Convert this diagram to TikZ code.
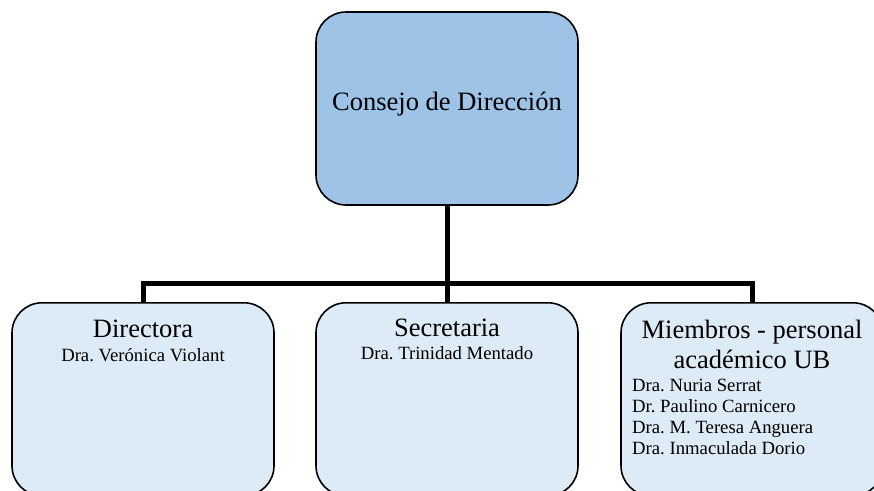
\documentclass[tikz,border=0pt]{standalone}
\usepackage{fontspec}
\setmainfont{Liberation Serif}
\usetikzlibrary{positioning,calc}
\definecolor{topblue}{RGB}{157,195,230}
\definecolor{lowblue}{RGB}{221,235,247}
\frenchspacing

\begin{document}
\begin{tikzpicture}[x=1pt,y=-1pt, % units are pixels of the chart, y points down
  box/.style={draw=black, line width=1.6pt, rounded corners=30pt,
    minimum width=262pt, minimum height=193pt, inner sep=0pt},
  head/.style={font=\fontsize{26.5}{30}\selectfont, align=center, inner sep=0pt},
  names/.style={font=\fontsize{18.7}{20.7}\selectfont, inner sep=0pt},
  conn/.style={line width=5pt}]

\useasboundingbox (0,0) rectangle (874,490);

% Top box
\node[box, fill=topblue] (consejo) at (447,108.5) {};

% Lower row of boxes (cut by the lower edge)
\foreach \n/\x in {dir/143, sec/447, mem/752} {
  \node[box, fill=lowblue, anchor=north] (\n) at (\x,302) {};
}

% Connectors
\coordinate (bus) at (447,283);
\draw[conn] (consejo.south) -- (sec.north);
\draw[conn] (dir.north) |- (bus) -| (mem.north);

% Texts
\node[head, anchor=base] (consejoT) at (447,110) {Consejo de Dirección};

\node[head, anchor=base] (dirT) at ($(dir.north)+(0,35)$) {Directora};
\node[names, anchor=base] (dirN) at ($(dir.north)+(0,59)$) {Dra. Verónica Violant};

\node[head, anchor=base] (secT) at ($(sec.north)+(0,34)$) {Secretaria};
\node[names, anchor=base] (secN) at ($(sec.north)+(0,57)$) {Dra. Trinidad Mentado};

% base of a two-line node is its last line
\node[head, anchor=base] (memT) at ($(mem.north)+(0,66)$) {Miembros - personal\\académico UB};
\node[names, align=left, anchor=base west] (memN) at (632,454)
  {Dra. Nuria Serrat\\Dr. Paulino Carnicero\\Dra. M. Teresa Anguera\\Dra. Inmaculada Dorio};

\end{tikzpicture}
\end{document}
